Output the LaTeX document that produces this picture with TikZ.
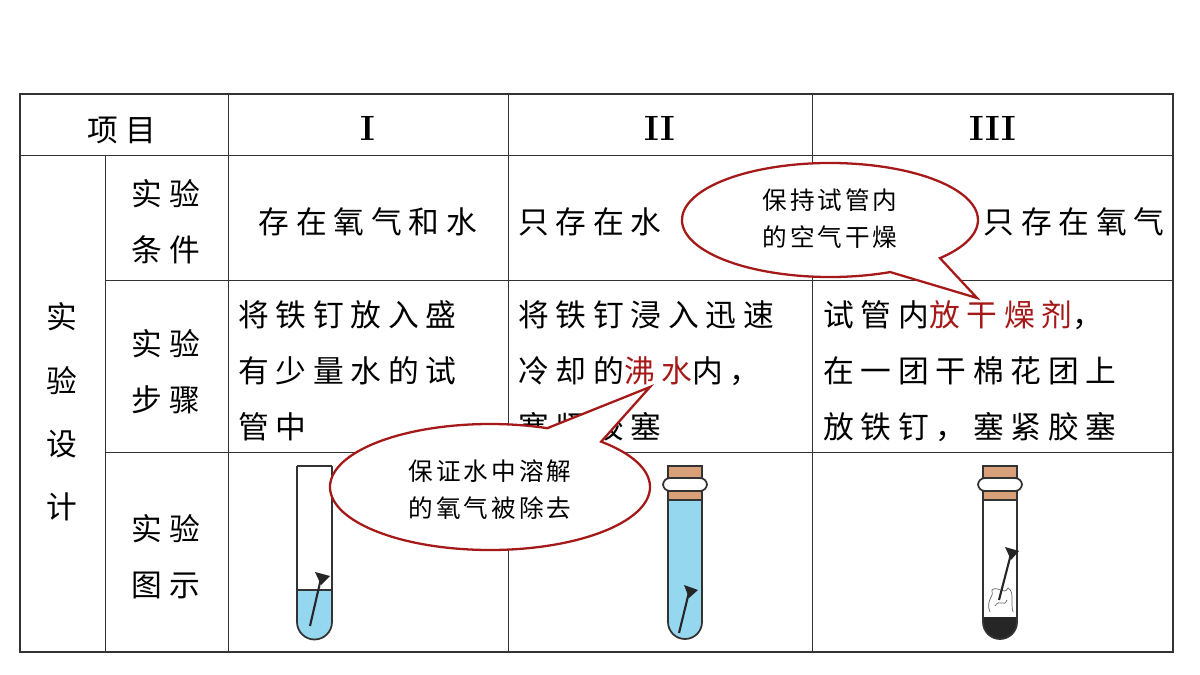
\documentclass[tikz,border=0pt]{standalone}
\usepackage{fontspec}
\newfontfamily\cjk[LetterSpace=22]{Noto Sans CJK SC}
\newfontfamily\cjknote[LetterSpace=12]{Noto Sans CJK SC}
\definecolor{calloutred}{RGB}{165,25,25}
\definecolor{water}{RGB}{150,215,240}
\definecolor{cork}{RGB}{215,160,120}
\tikzset{
  cell/.style={inner sep=0pt, font=\cjk\fontsize{17.5}{32}\selectfont, align=left},
  head/.style={inner sep=0pt, font=\cjk\fontsize{17.5}{32}\selectfont},
  note/.style={inner sep=0pt, font=\cjknote\fontsize{14}{21}\selectfont, align=center},
  callout/.style={draw=calloutred, fill=white, line width=1.3pt},
  tube/.style={draw=black!80, line width=1pt},
}
\newcommand{\hot}[1]{\textcolor{calloutred}{#1}}
\begin{document}
\begin{tikzpicture}[x=0.02cm, y=-0.02cm]
\useasboundingbox (0,0) rectangle (1200,675);

% table grid
\draw[black!80, thick] (20,94) rectangle (1173,652);
\foreach \y in {155} \draw[black!80] (20,\y) -- (1173,\y);
\foreach \y in {280,452} \draw[black!80] (105,\y) -- (1173,\y);
\foreach \x in {228,508,812} \draw[black!80] (\x,94) -- (\x,652);
\draw[black!80] (105,155) -- (105,652);

% header
\node[head] (xiangmu) at (122,130) {项目};
\node[head, font=\bfseries\fontsize{20}{24}\selectfont] (one) at (368,128) {I};
\node[head, font=\bfseries\fontsize{20}{24}\selectfont] (two) at (660,128) {II};
\node[head, font=\bfseries\fontsize{20}{24}\selectfont] (three) at (993,128) {III};

% left column
\node[cell, align=center, font=\cjk\fontsize{17.5}{36}\selectfont] (design) at (62,412) {实\\验\\设\\计};
\node[cell, align=center] (cond) at (166,222) {实验\\条件};
\node[cell, align=center] (step) at (166,372) {实验\\步骤};
\node[cell, align=center] (fig) at (166,557) {实验\\图示};

% conditions
\node[cell] (condA) at (368,222) {存在氧气和水};
\node[cell, anchor=west] (condB) at (518,222) {只存在水};
\node[cell, anchor=east] (condC) at (1165,222) {只存在氧气};

% steps
\node[cell, anchor=north west] (stepA) at (238,300) {将铁钉放入盛\\有少量水的试\\管中};
\node[cell, anchor=north west] (stepB) at (518,300) {将铁钉浸入迅速\\冷却的\hot{沸水}内，\\塞紧胶塞};
\node[cell, anchor=north west] (stepC) at (823,300) {试管内\hot{放干燥剂}，\\在一团干棉花团上\\放铁钉，塞紧胶塞};

% tube I: open, some water
\fill[water] (297,590) -- (332,590) -- (332,622) arc[start angle=0, end angle=180, radius=17.5] -- cycle;
\draw[tube] (297,466) -- (332,466);
\draw[tube] (297,466) -- (297,622) arc[start angle=180, end angle=0, radius=17.5] -- (332,466);
\draw[tube] (297,590) -- (332,590);
\draw[black!85, line width=1.2pt] (310,626) -- (322,574);
\fill[black!85] (315,572) -- (330,576) -- (321,585) -- cycle;

% tube II: full of boiled water, corked
\fill[water] (668,500) -- (702,500) -- (702,622) arc[start angle=0, end angle=180, radius=17] -- cycle;
\draw[tube] (668,478) -- (668,622) arc[start angle=180, end angle=0, radius=17] -- (702,478);
\draw[tube, fill=cork] (668,466) rectangle (702,478);
\draw[tube, fill=white, rounded corners=4pt] (663,478) rectangle (707,491);
\draw[tube, fill=cork] (668,491) rectangle (702,500);
\draw[black!85, line width=1.2pt] (679,633) -- (690,588);
\fill[black!85] (684,585) -- (698,590) -- (689,598) -- cycle;

% tube III: drying agent, cotton, corked
\fill[black!85] (983,617) -- (1017,617) -- (1017,622) arc[start angle=0, end angle=180, radius=17] -- cycle;
\draw[tube] (983,478) -- (983,622) arc[start angle=180, end angle=0, radius=17] -- (1017,478);
\draw[tube, fill=cork] (983,466) rectangle (1017,478);
\draw[tube, fill=white, rounded corners=4pt] (978,478) rectangle (1022,491);
\draw[tube, fill=cork] (983,491) rectangle (1017,500);
\draw[black!60, thin] (990,612) .. controls (985,600) and (995,596) .. (992,590)
  .. controls (998,585) and (1004,596) .. (1008,588) .. controls (1015,592) and (1010,602) .. (1013,612);
\draw[black!60, thin] (995,606) .. controls (1000,598) and (1004,608) .. (1007,600);
\draw[black!85, line width=1.2pt] (999,600) -- (1012,550);
\fill[black!85] (1005,547) -- (1019,551) -- (1011,560) -- cycle;

% callouts
\draw[callout] (830,220) ++(66:148 and 57) arc[start angle=66, end angle=402, x radius=148, y radius=57] -- (977,298) -- cycle;
\node[note] (dry) at (830,219) {保持试管内\\的空气干燥};
\draw[callout] (490,487) ++(-46:160 and 63) arc[start angle=-46, end angle=291, x radius=160, y radius=63] -- (650,387) -- cycle;
\node[note] (boil) at (490,490) {保证水中溶解\\的氧气被除去};
\end{tikzpicture}
\end{document}
